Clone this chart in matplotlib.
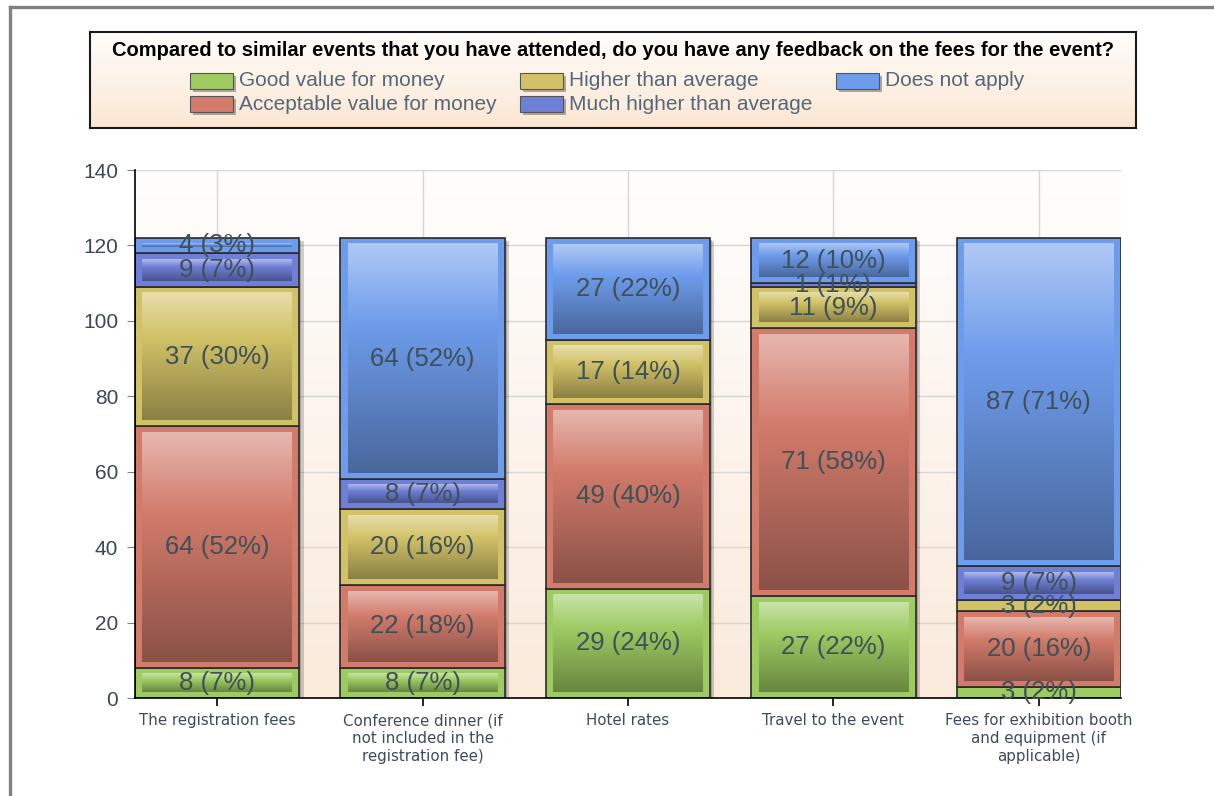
import numpy as np
import matplotlib
matplotlib.use("Agg")
import matplotlib.pyplot as plt
from matplotlib.colors import to_rgb
from matplotlib.patches import Rectangle
from matplotlib.lines import Line2D

# data
categories = [
    "The registration fees",
    "Conference dinner (if\nnot included in the\nregistration fee)",
    "Hotel rates",
    "Travel to the event",
    "Fees for exhibition booth\nand equipment (if\napplicable)",
]
series = ["Good value for money", "Acceptable value for money",
          "Higher than average", "Much higher than average", "Does not apply"]
good = [8, 8, 29, 27, 3]
acceptable = [64, 22, 49, 71, 20]
higher = [37, 20, 17, 11, 3]
much_higher = [9, 8, 0, 1, 9]
not_apply = [4, 64, 27, 12, 87]
colors = ["#9dcb62", "#d27b6b", "#d2c267", "#6f7fd6", "#6e9cec"]
title = ("Compared to similar events that you have attended, "
         "do you have any feedback on the fees for the event?")
yticks = [0, 20, 40, 60, 80, 100, 120, 140]

W, H = 1214, 796
fig = plt.figure(figsize=(W / 100, H / 100), dpi=100)
fig.patch.set_facecolor("white")


def px_axes(x0, y0, x1, y1):
    return fig.add_axes([x0 / W, 1 - y1 / H, (x1 - x0) / W, (y1 - y0) / H])


def gradient(base, n=80, light=0.45, dark=0.66, knee=0.35):
    rgb = np.array(to_rgb(base))
    t = np.linspace(0, 1, n)
    out = np.zeros((n, 1, 3))
    for i, v in enumerate(t):
        if v < knee:
            f = v / knee
            c = (rgb + (1 - rgb) * light) * (1 - f) + rgb * f
        else:
            f = (v - knee) / (1 - knee)
            c = rgb * (1 - f) + rgb * dark * f
        out[i, 0] = c
    return out


# outer grey frame
fig.add_artist(Line2D([10 / W, 10 / W], [0, 1 - 7 / H], color="#808080", lw=2.4))
fig.add_artist(Line2D([10 / W, 1], [1 - 7 / H, 1 - 7 / H], color="#808080", lw=2.4))

# ---- main plot ----
ax = px_axes(135, 170, 1121, 698)
x = np.arange(len(categories))
width = 0.8
ax.set_xlim(-0.4, len(categories) - 0.6)
ax.set_ylim(0, 140)

bg = np.linspace(0, 1, 100)[:, None, None] * (np.array(to_rgb("#faeadb")) - np.array(to_rgb("#fffefd"))) + np.array(to_rgb("#fffefd"))
ax.imshow(bg, extent=[0, 1, 0, 1], transform=ax.transAxes, aspect="auto", zorder=0)

for v in yticks[1:]:
    ax.axhline(v, color="#d6d6d6", lw=1, zorder=0.5)
for xi in x:
    ax.axvline(xi, color="#d6d6d6", lw=1, zorder=0.5)

data = [good, acceptable, higher, much_higher, not_apply]
totals = np.sum(data, axis=0)

# drop shadows
px_x = (len(categories)) / 986.0
px_y = 140 / 528.0
ax.bar(x + 4 * px_x, totals - 3 * px_y, width, color="black", alpha=0.18, zorder=1)
ax.bar(x + 2 * px_x, totals - 2 * px_y, width, color="black", alpha=0.18, zorder=1)

bottom = np.zeros(len(categories))
dx = 7 * px_x
dy = 6 * px_y
for vals, col in zip(data, colors):
    vals = np.array(vals, dtype=float)
    ax.bar(x, vals, width, bottom=bottom, color=col, edgecolor="#2a2a2a",
           lw=1.2, zorder=2)
    g = gradient(col)
    for xi, b, v in zip(x, bottom, vals):
        if v <= 0:
            continue
        if v * 1.0 > 2 * dy + 0.3:
            ax.imshow(g, extent=[xi - width / 2 + dx, xi + width / 2 - dx,
                                 b + dy, b + v - dy],
                      aspect="auto", zorder=3, interpolation="bilinear")
        pct = int(round(100 * v / totals[xi]))
        ax.text(xi, b + v / 2, f"{int(v)} ({pct}%)", ha="center", va="center",
                fontsize=18.5, family="Liberation Sans", color="#3e5058",
                zorder=4)
    bottom += vals

ax.set_xlim(-0.4, len(categories) - 0.6)
ax.set_ylim(0, 140)
ax.set_yticks(yticks)
ax.set_yticklabels([str(v) for v in yticks], fontsize=15,
                   family="Liberation Sans", color="#3c4858")
ax.set_xticks(x)
ax.set_xticklabels(categories, fontsize=10.8, family="DejaVu Sans",
                   color="#3e4a5e", linespacing=1.25)
ax.tick_params(axis="y", length=6, color="#808080", pad=6)
ax.tick_params(axis="x", length=6, color="black", pad=5, width=1.2)
for s in ["top", "right"]:
    ax.spines[s].set_visible(False)
ax.spines["left"].set_linewidth(1.2)
ax.spines["bottom"].set_linewidth(1.2)

# ---- legend box ----
lax = px_axes(90, 32, 1136, 128)
lw_, lh_ = 1046, 96
lax.set_xlim(0, lw_)
lax.set_ylim(lh_, 0)
lbg = np.linspace(0, 1, 100)[:, None, None] * (np.array(to_rgb("#fbe7d3")) - np.array(to_rgb("#fffdfb"))) + np.array(to_rgb("#fffdfb"))
lax.imshow(lbg, extent=[0, lw_, lh_, 0], aspect="auto", zorder=0)
lax.set_xlim(0, lw_)
lax.set_ylim(lh_, 0)
lax.set_xticks([])
lax.set_yticks([])
for s in lax.spines.values():
    s.set_linewidth(1.5)
    s.set_color("#1a1a1a")

lax.text(523, 19, title, ha="center", va="center", fontsize=14.5,
         fontweight="bold", family="Liberation Sans", color="black")

entry_pos = [(100, 49), (100, 72), (430, 49), (430, 72), (746, 49)]
for name, col, (ex, ey) in zip(series, colors, entry_pos):
    lax.add_patch(Rectangle((ex + 3, ey - 5), 43, 16, facecolor="black",
                            alpha=0.3, zorder=1, lw=0))
    lax.add_patch(Rectangle((ex, ey - 8), 43, 16, facecolor=col,
                            edgecolor="#555555", lw=0.8, zorder=2))
    lax.text(ex + 49, ey, name, ha="left", va="center", fontsize=15,
             family="Liberation Sans", color="#55687a", zorder=3)

fig.savefig("out.png", dpi=100)
